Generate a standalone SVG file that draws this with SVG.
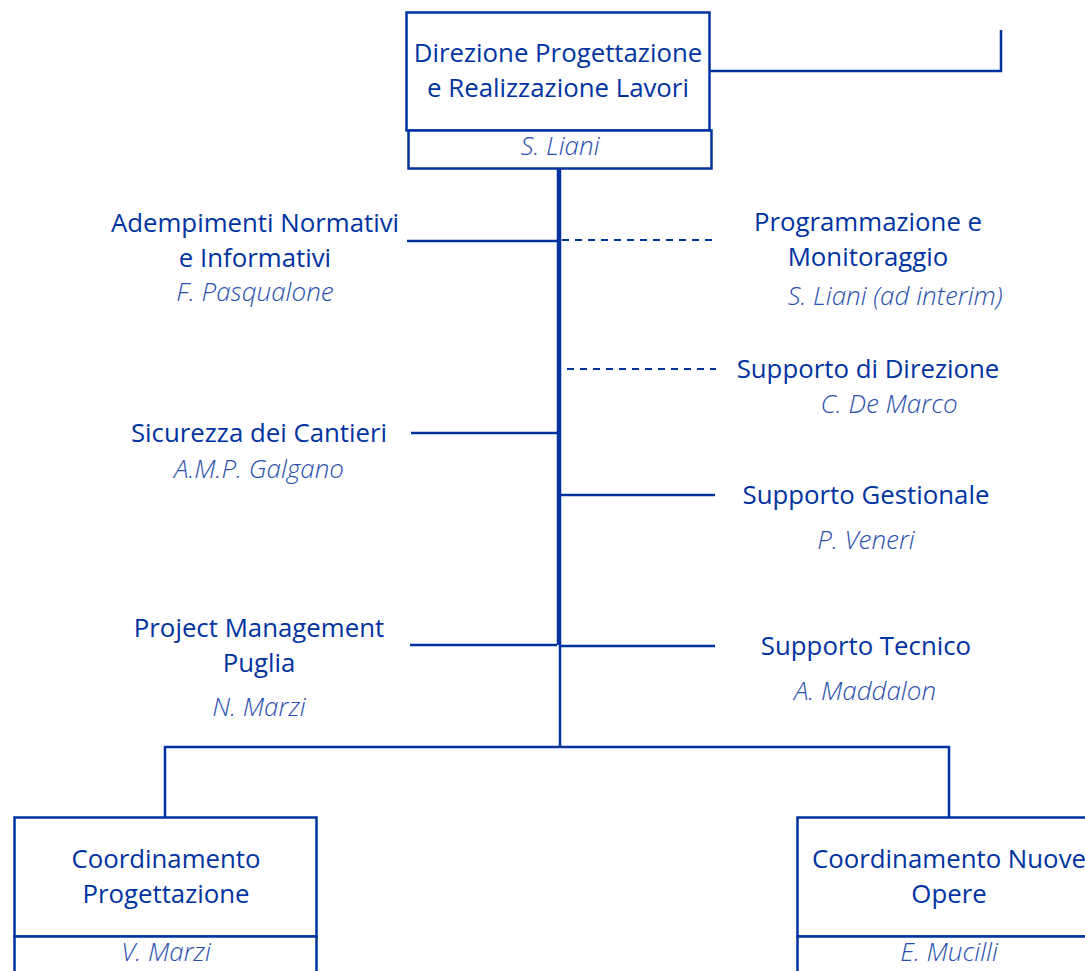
<svg xmlns="http://www.w3.org/2000/svg" width="1085" height="971" viewBox="0 0 1085 971">
<style>
.box{fill:#fff;stroke:#0033a0;stroke-width:2.5}
.t{font-family:"Open Sans","Liberation Sans",sans-serif;font-size:25.8px;fill:#0033a0;text-anchor:middle}
.n{font-family:"Open Sans","Liberation Sans",sans-serif;font-size:26px;font-style:italic;font-weight:300;fill:#2a4fae;text-anchor:middle}
.l{stroke:#0033a0;stroke-width:2.5;fill:none}
.d{stroke:#0033a0;stroke-width:2;stroke-dasharray:7,6;fill:none}
</style>
<rect width="1085" height="971" fill="#fff"/>
<g id="connectors">
<polyline class="l" points="710,71 1001,71 1001,30"/>
<line x1="559" y1="168" x2="559" y2="645" stroke="#0033a0" stroke-width="4.5"/>
<line class="l" x1="560" y1="645" x2="560" y2="747"/>
<line class="l" x1="407" y1="241" x2="557" y2="241"/>
<line class="d" x1="562" y1="240" x2="716" y2="240"/>
<line class="d" x1="567" y1="369" x2="716" y2="369"/>
<line class="l" x1="411" y1="433" x2="557" y2="433"/>
<line class="l" x1="561" y1="495" x2="715" y2="495"/>
<line class="l" x1="410" y1="645" x2="557" y2="645"/>
<line class="l" x1="561" y1="646" x2="715" y2="646"/>
<polyline class="l" points="165,817 165,747 949,747 949,817"/>
</g>
<g id="direzione">
<rect class="box" x="406.5" y="12.5" width="303" height="118"/>
<rect class="box" x="408.5" y="130.5" width="303" height="38"/>
<text class="t" x="558" y="62">Direzione Progettazione</text>
<text class="t" x="558" y="97">e Realizzazione Lavori</text>
<text class="n" x="560" y="155">S. Liani</text>
</g>
<g id="adempimenti">
<text class="t" x="255" y="232">Adempimenti Normativi</text>
<text class="t" x="255" y="267">e Informativi</text>
<text class="n" x="255" y="301">F. Pasqualone</text>
</g>
<g id="programmazione">
<text class="t" x="868" y="231">Programmazione e</text>
<text class="t" x="868" y="266">Monitoraggio</text>
<text class="n" x="895" y="305">S. Liani (ad interim)</text>
</g>
<g id="supporto-direzione">
<text class="t" x="868" y="378">Supporto di Direzione</text>
<text class="n" x="889" y="413">C. De Marco</text>
</g>
<g id="sicurezza">
<text class="t" x="259" y="442">Sicurezza dei Cantieri</text>
<text class="n" x="259" y="478">A.M.P. Galgano</text>
</g>
<g id="supporto-gestionale">
<text class="t" x="866" y="504">Supporto Gestionale</text>
<text class="n" x="866" y="549">P. Veneri</text>
</g>
<g id="project-management">
<text class="t" x="259" y="637">Project Management</text>
<text class="t" x="259" y="672">Puglia</text>
<text class="n" x="259" y="716">N. Marzi</text>
</g>
<g id="supporto-tecnico">
<text class="t" x="866" y="655">Supporto Tecnico</text>
<text class="n" x="865" y="700">A. Maddalon</text>
</g>
<g id="coord-progettazione">
<rect class="box" x="14.5" y="817.5" width="302" height="119"/>
<rect class="box" x="14.5" y="936.5" width="302" height="40"/>
<text class="t" x="166" y="868">Coordinamento</text>
<text class="t" x="166" y="903">Progettazione</text>
<text class="n" x="166" y="961">V. Marzi</text>
</g>
<g id="coord-nuove-opere">
<rect class="box" x="797.5" y="817.5" width="300" height="119"/>
<rect class="box" x="797.5" y="936.5" width="300" height="40"/>
<text class="t" x="949" y="868">Coordinamento Nuove</text>
<text class="t" x="949" y="903">Opere</text>
<text class="n" x="949" y="961">E. Mucilli</text>
</g>
</svg>
